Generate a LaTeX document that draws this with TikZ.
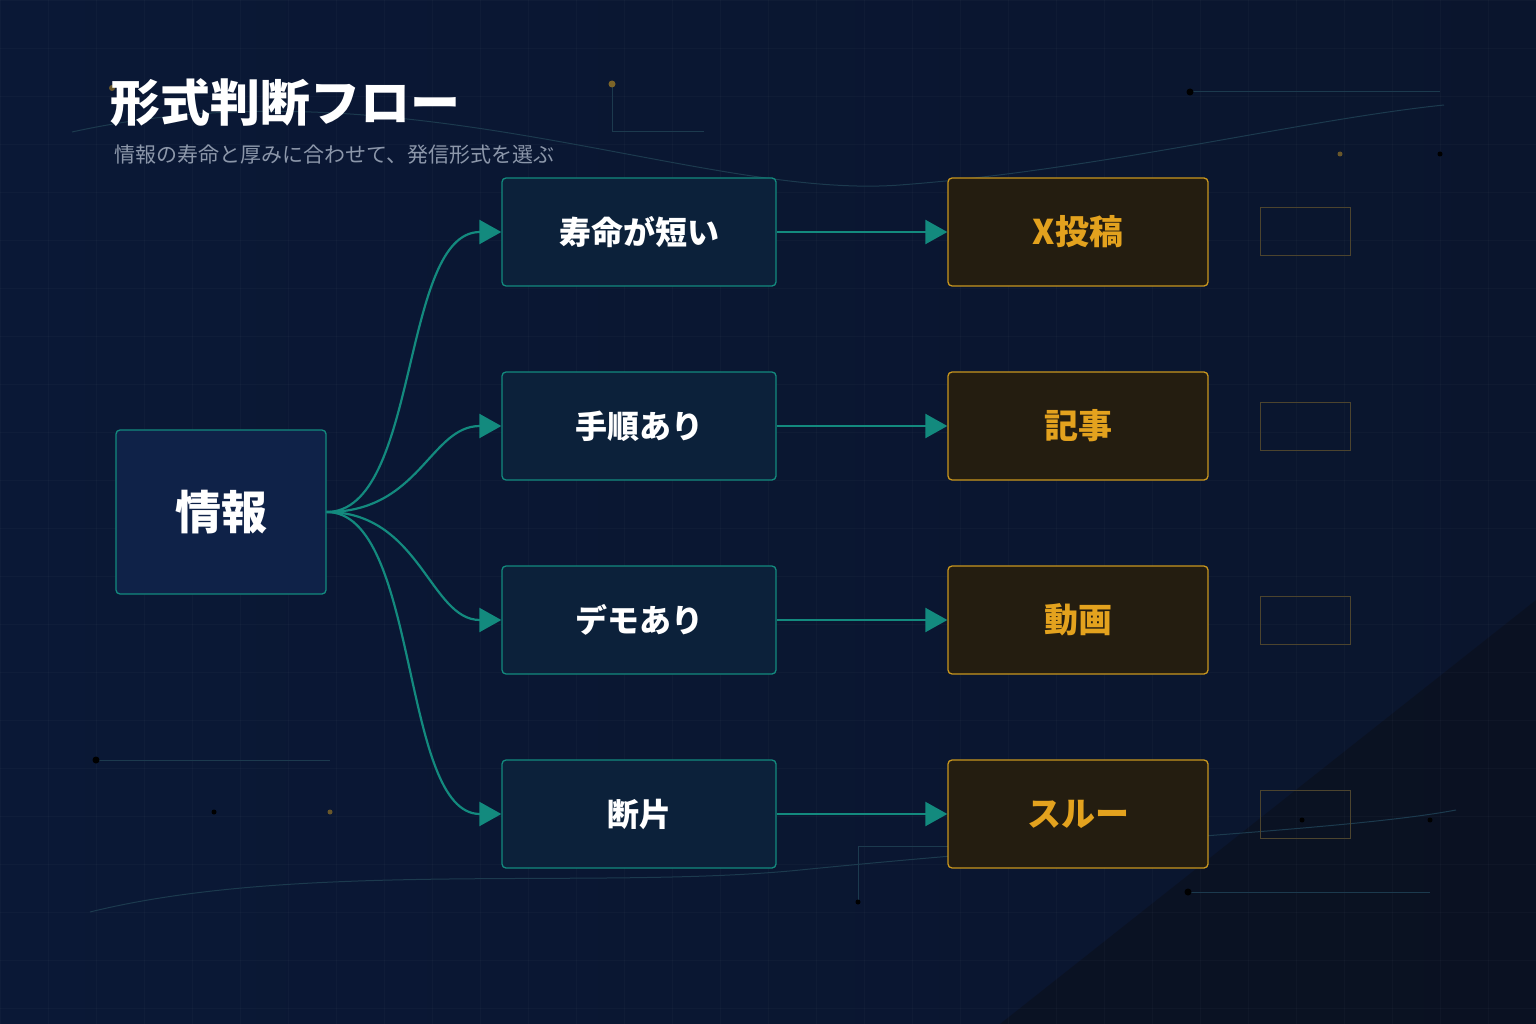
\documentclass[tikz,border=0pt]{standalone}
\usepackage{fontspec}
\setmainfont{Noto Sans CJK JP}
\usetikzlibrary{arrows.meta,shadings}
\definecolor{bgA}{HTML}{0A1836}
\definecolor{bgB}{HTML}{0B0F18}
\definecolor{teal}{HTML}{138A7E}
\definecolor{infofill}{HTML}{0F2248}
\definecolor{midfill}{HTML}{0C213A}
\definecolor{outfill}{HTML}{241D10}
\definecolor{gold}{HTML}{C8961E}
\definecolor{goldtext}{HTML}{E3A21E}
\definecolor{deco}{HTML}{1C3A4E}
\definecolor{sub}{HTML}{8C97AA}
\begin{document}
\begin{tikzpicture}[x=1pt,y=-1pt,
  box/.style={draw=teal,line width=1.3pt,rounded corners=4pt,minimum width=274pt,minimum height=108pt,fill=midfill,text=white,font=\bfseries\fontsize{32}{36}\selectfont},
  outbox/.style={draw=gold,line width=1.3pt,rounded corners=4pt,minimum width=260pt,minimum height=108pt,fill=outfill,text=goldtext,font=\bfseries\fontsize{34}{38}\selectfont},
  ghost/.style={draw=gold!35!bgA,line width=1pt,minimum width=90pt,minimum height=48pt},
  conn/.style={draw=teal,line width=2.2pt,-{Triangle[length=22pt,width=24pt]}},
  dec/.style={draw=deco,line width=1pt},
  dot/.style={circle,inner sep=0pt,minimum size=7pt}]
\useasboundingbox (0,0) rectangle (1536,1024);
\shade[left color=bgA,right color=bgA!70!bgB] (0,0) rectangle (1536,1024);
\fill[bgB,opacity=0.5] (1536,600) -- (1536,1024) -- (1000,1024) -- cycle;
% grid
\foreach \x in {0,48,...,1536} \draw[white,opacity=0.025] (\x,0) -- (\x,1024);
\foreach \y in {0,48,...,1024} \draw[white,opacity=0.025] (0,\y) -- (1536,\y);
% decorations
\draw[dec] (72,132) .. controls (400,60) and (700,200) .. (900,185) .. controls (1100,170) and (1300,120) .. (1444,105);
\draw[dec] (90,912) .. controls (300,860) and (600,890) .. (800,870) .. controls (1100,840) and (1350,830) .. (1456,810);
\draw[dec] (1190,92) -- (1440,92);
\draw[dec] (612,84) -- (612,132) -- (704,132);
\draw[dec] (96,760) -- (330,760);
\draw[dec] (858,902) -- (858,846) -- (948,846);
\draw[dec] (1188,892) -- (1430,892);
\node[dot,fill=deco!150] (d1) at (1190,92) {};
\node[dot,fill=gold!60!bgA] (d2) at (612,84) {};
\node[dot,fill=deco!150] (d3) at (96,760) {};
\node[dot,fill=deco!150,minimum size=5pt] (d4) at (214,812) {};
\node[dot,fill=gold!50!bgA,minimum size=5pt] (d5) at (330,812) {};
\node[dot,fill=gold!50!bgA,minimum size=5pt] (d6) at (1340,154) {};
\node[dot,fill=deco!150,minimum size=5pt] (d7) at (1440,154) {};
\node[dot,fill=deco!150] (d8) at (1188,892) {};
\node[dot,fill=deco!150,minimum size=5pt] (d9) at (858,902) {};
\node[dot,fill=deco!150,minimum size=5pt] (d10) at (1302,820) {};
\node[dot,fill=deco!150,minimum size=5pt] (d11) at (1430,820) {};
\node[dot,fill=gold!50!bgA,minimum size=6pt] (d12) at (112,88) {};
% title
\node[anchor=west,text=white,font=\bfseries\fontsize{50}{56}\selectfont,inner sep=0pt] (title) at (110,103) {形式判断フロー};
\node[anchor=west,text=sub,font=\fontsize{21}{24}\selectfont,inner sep=0pt] (subt) at (114,155) {情報の寿命と厚みに合わせて、発信形式を選ぶ};
% nodes
\node[draw=teal,line width=1.3pt,rounded corners=4pt,minimum width=210pt,minimum height=164pt,fill=infofill,text=white,font=\bfseries\fontsize{46}{50}\selectfont] (info) at (221,512) {情報};
\node[box] (m1) at (639,232) {寿命が短い};
\node[box] (m2) at (639,426) {手順あり};
\node[box] (m3) at (639,620) {デモあり};
\node[box] (m4) at (639,814) {断片};
\node[outbox] (o1) at (1078,232) {X投稿};
\node[outbox] (o2) at (1078,426) {記事};
\node[outbox] (o3) at (1078,620) {動画};
\node[outbox] (o4) at (1078,814) {スルー};
\foreach \i/\y in {1/232,2/426,3/620,4/814} \node[ghost] (g\i) at (1305,\y) {};
% connectors
\draw[conn] (info.east) .. controls (420,512) and (400,232) .. (m1.west);
\draw[conn] (info.east) .. controls (420,512) and (430,426) .. (m2.west);
\draw[conn] (info.east) .. controls (420,512) and (430,620) .. (m3.west);
\draw[conn] (info.east) .. controls (420,512) and (400,814) .. (m4.west);
\foreach \i in {1,2,3,4} \draw[conn] (m\i.east) -- (o\i.west);
\end{tikzpicture}
\end{document}
